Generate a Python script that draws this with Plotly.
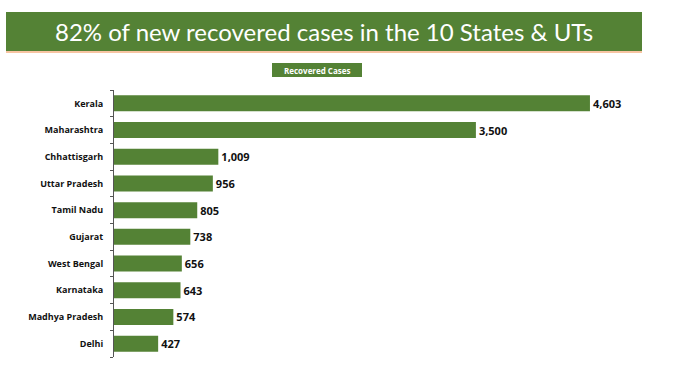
import plotly.graph_objects as go

states = ["Kerala", "Maharashtra", "Chhattisgarh", "Uttar Pradesh", "Tamil Nadu",
          "Gujarat", "West Bengal", "Karnataka", "Madhya Pradesh", "Delhi"]
recovered = [4603, 3500, 1009, 956, 805, 738, 656, 643, 574, 427]
value_labels = [f"<b>{v:,}</b>" for v in recovered]
tick_labels = [f"<b>{s}</b>" for s in states]
title_text = "82% of new recovered cases in the 10 States & UTs"
legend_text = "Recovered Cases"

W, H = 673, 378
L, R, T, B = 114, 42, 90, 21
PW, PH = W - L - R, H - T - B

def px(x):
    return (x - L) / PW

def py(y):
    return 1 - (y - T) / PH

green = "#548235"

fig = go.Figure(go.Bar(
    x=recovered, y=states, orientation="h",
    marker=dict(color=green, line=dict(width=0)),
    width=0.6,
    text=value_labels, textposition="outside",
    textfont=dict(family="Open Sans", size=11, color="#111111"),
    cliponaxis=False,
))

fig.update_layout(
    width=W, height=H,
    margin=dict(l=L, r=R, t=T, b=B, autoexpand=False),
    paper_bgcolor="white", plot_bgcolor="white",
    showlegend=False,
    xaxis=dict(range=[0, 5000], visible=False),
    yaxis=dict(autorange="reversed", showline=True, linecolor="#555555", linewidth=1,
               ticks="outside", ticklen=3, tickcolor="#555555", tickson="boundaries",
               tickmode="array", tickvals=states, ticktext=tick_labels,
               tickfont=dict(family="Open Sans", size=9, color="#111111"),
               ticklabelstandoff=8, showgrid=False, automargin=False),
    shapes=[
        dict(type="rect", xref="paper", yref="paper",
             x0=px(6), x1=px(642), y0=py(12), y1=py(51),
             fillcolor=green, line=dict(width=0), layer="below"),
        dict(type="line", xref="paper", yref="paper",
             x0=px(6), x1=px(642), y0=py(52), y1=py(52),
             line=dict(color="#f4b183", width=1.5)),
        dict(type="rect", xref="paper", yref="paper",
             x0=px(272), x1=px(362), y0=py(63), y1=py(77),
             fillcolor=green, line=dict(width=0)),
    ],
    annotations=[
        dict(text=title_text, xref="paper", yref="paper", x=px(324), y=py(32),
             xanchor="center", yanchor="middle", showarrow=False,
             font=dict(family="Lato", size=24, color="white")),
        dict(text="<b>" + legend_text + "</b>", xref="paper", yref="paper",
             x=px(317), y=py(70), xanchor="center", yanchor="middle", showarrow=False,
             font=dict(family="Open Sans", size=8, color="white")),
    ],
)

fig.write_html("out.html", config={"displayModeBar": False},
               post_script="document.body.style.margin='0';")
